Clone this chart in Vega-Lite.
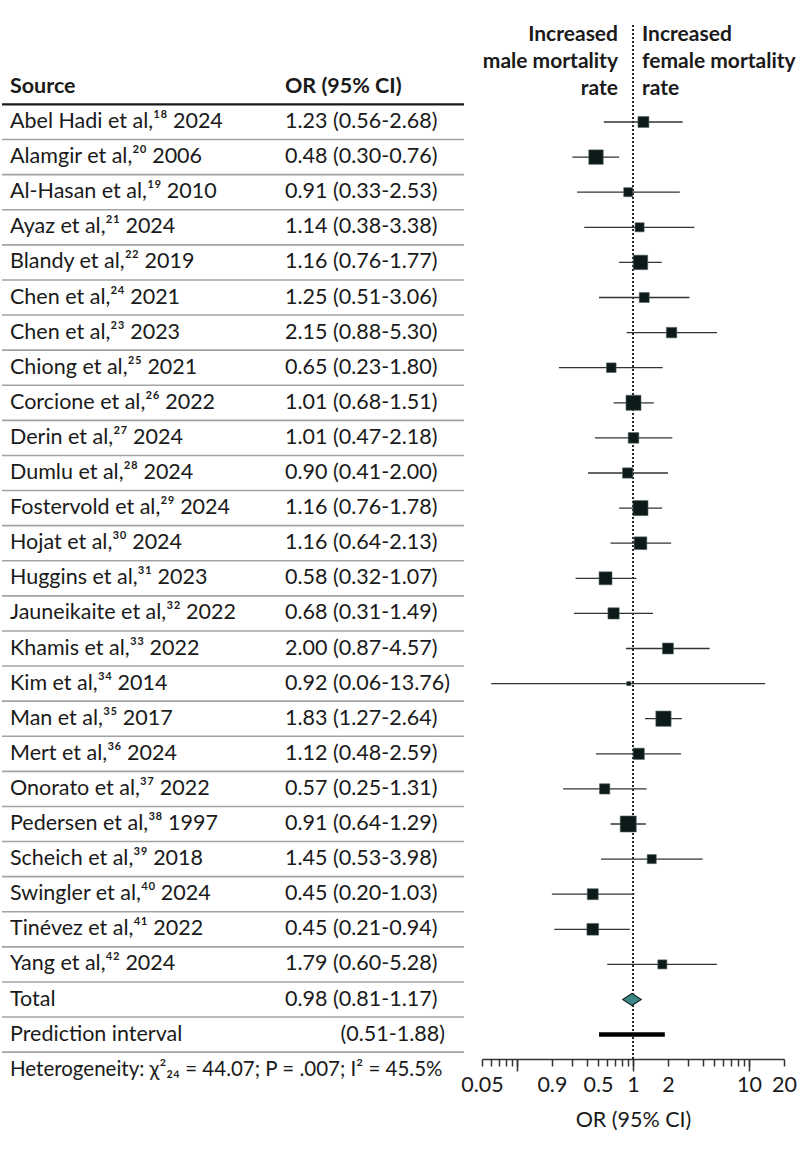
{
  "$schema": "https://vega.github.io/schema/vega-lite/v6.json",
  "padding": {"top": 23, "left": 0, "right": 0, "bottom": 0},
  "bounds": "flush",
  "spacing": 18,
  "background": "white",
  "config": {"view": {"stroke": null}, "font": "Lato"},
  "datasets": {
    "rows": [
      {"row": 1, "type": "study", "source": "Abel Hadi et al,¹⁸ 2024", "ci": "1.23 (0.56-2.68)", "or": 1.23, "lo": 0.56, "hi": 2.68, "weight": 3.5},
      {"row": 2, "type": "study", "source": "Alamgir et al,²⁰ 2006", "ci": "0.48 (0.30-0.76)", "or": 0.48, "lo": 0.30, "hi": 0.76, "weight": 6.1},
      {"row": 3, "type": "study", "source": "Al-Hasan et al,¹⁹ 2010", "ci": "0.91 (0.33-2.53)", "or": 0.91, "lo": 0.33, "hi": 2.53, "weight": 2.4},
      {"row": 4, "type": "study", "source": "Ayaz et al,²¹ 2024", "ci": "1.14 (0.38-3.38)", "or": 1.14, "lo": 0.38, "hi": 3.38, "weight": 2.4},
      {"row": 5, "type": "study", "source": "Blandy et al,²² 2019", "ci": "1.16 (0.76-1.77)", "or": 1.16, "lo": 0.76, "hi": 1.77, "weight": 6.1},
      {"row": 6, "type": "study", "source": "Chen et al,²⁴ 2021", "ci": "1.25 (0.51-3.06)", "or": 1.25, "lo": 0.51, "hi": 3.06, "weight": 2.9},
      {"row": 7, "type": "study", "source": "Chen et al,²³ 2023", "ci": "2.15 (0.88-5.30)", "or": 2.15, "lo": 0.88, "hi": 5.30, "weight": 3.2},
      {"row": 8, "type": "study", "source": "Chiong et al,²⁵ 2021", "ci": "0.65 (0.23-1.80)", "or": 0.65, "lo": 0.23, "hi": 1.80, "weight": 2.7},
      {"row": 9, "type": "study", "source": "Corcione et al,²⁶ 2022", "ci": "1.01 (0.68-1.51)", "or": 1.01, "lo": 0.68, "hi": 1.51, "weight": 6.6},
      {"row": 10, "type": "study", "source": "Derin et al,²⁷ 2024", "ci": "1.01 (0.47-2.18)", "or": 1.01, "lo": 0.47, "hi": 2.18, "weight": 3.3},
      {"row": 11, "type": "study", "source": "Dumlu et al,²⁸ 2024", "ci": "0.90 (0.41-2.00)", "or": 0.90, "lo": 0.41, "hi": 2.00, "weight": 3.1},
      {"row": 12, "type": "study", "source": "Fostervold et al,²⁹ 2024", "ci": "1.16 (0.76-1.78)", "or": 1.16, "lo": 0.76, "hi": 1.78, "weight": 6.6},
      {"row": 13, "type": "study", "source": "Hojat et al,³⁰ 2024", "ci": "1.16 (0.64-2.13)", "or": 1.16, "lo": 0.64, "hi": 2.13, "weight": 4.7},
      {"row": 14, "type": "study", "source": "Huggins et al,³¹ 2023", "ci": "0.58 (0.32-1.07)", "or": 0.58, "lo": 0.32, "hi": 1.07, "weight": 4.9},
      {"row": 15, "type": "study", "source": "Jauneikaite et al,³² 2022", "ci": "0.68 (0.31-1.49)", "or": 0.68, "lo": 0.31, "hi": 1.49, "weight": 3.7},
      {"row": 16, "type": "study", "source": "Khamis et al,³³ 2022", "ci": "2.00 (0.87-4.57)", "or": 2.00, "lo": 0.87, "hi": 4.57, "weight": 3.5},
      {"row": 17, "type": "study", "source": "Kim et al,³⁴ 2014", "ci": "0.92 (0.06-13.76)", "or": 0.92, "lo": 0.06, "hi": 13.76, "weight": 0.5},
      {"row": 18, "type": "study", "source": "Man et al,³⁵ 2017", "ci": "1.83 (1.27-2.64)", "or": 1.83, "lo": 1.27, "hi": 2.64, "weight": 6.8},
      {"row": 19, "type": "study", "source": "Mert et al,³⁶ 2024", "ci": "1.12 (0.48-2.59)", "or": 1.12, "lo": 0.48, "hi": 2.59, "weight": 3.7},
      {"row": 20, "type": "study", "source": "Onorato et al,³⁷ 2022", "ci": "0.57 (0.25-1.31)", "or": 0.57, "lo": 0.25, "hi": 1.31, "weight": 3.1},
      {"row": 21, "type": "study", "source": "Pedersen et al,³⁸ 1997", "ci": "0.91 (0.64-1.29)", "or": 0.91, "lo": 0.64, "hi": 1.29, "weight": 7.5},
      {"row": 22, "type": "study", "source": "Scheich et al,³⁹ 2018", "ci": "1.45 (0.53-3.98)", "or": 1.45, "lo": 0.53, "hi": 3.98, "weight": 2.4},
      {"row": 23, "type": "study", "source": "Swingler et al,⁴⁰ 2024", "ci": "0.45 (0.20-1.03)", "or": 0.45, "lo": 0.20, "hi": 1.03, "weight": 3.5},
      {"row": 24, "type": "study", "source": "Tinévez et al,⁴¹ 2022", "ci": "0.45 (0.21-0.94)", "or": 0.45, "lo": 0.21, "hi": 0.94, "weight": 4.0},
      {"row": 25, "type": "study", "source": "Yang et al,⁴² 2024", "ci": "1.79 (0.60-5.28)", "or": 1.79, "lo": 0.60, "hi": 5.28, "weight": 2.4},
      {"row": 26, "type": "total", "source": "Total", "ci": "0.98 (0.81-1.17)", "or": 0.98, "lo": 0.81, "hi": 1.17},
      {"row": 27, "type": "pi", "source": "Prediction interval", "ci": "(0.51-1.88)", "lo": 0.51, "hi": 1.88},
      {"row": 28, "type": "het", "source": "Heterogeneity: χ²₂₄ = 44.07; P = .007; I² = 45.5%", "ci": ""}
    ],
    "header": [{"row": 0, "source": "Source", "ci": "OR (95% CI)"}],
    "direction": [
      {"side": "male", "label": "Increased\nmale mortality\nrate"},
      {"side": "female", "label": "Increased\nfemale mortality\nrate"}
    ]
  },
  "hconcat": [
    {
      "width": 462,
      "height": 1062.25,
      "data": {"name": "rows"},
      "layer": [
        {
          "transform": [{"filter": "datum.row >= 2"}],
          "mark": {"type": "rule", "color": "#a3a3a3", "strokeWidth": 1.6},
          "encoding": {
            "y": {"field": "row", "type": "ordinal", "bandPosition": 0, "axis": null,
                  "scale": {"type": "band", "domain": [-1,0,1,2,3,4,5,6,7,8,9,10,11,12,13,14,15,16,17,18,19,20,21,22,23,24,25,26,27,28], "paddingInner": 0, "paddingOuter": 0.13177, "align": 1, "round": false}}
          }
        },
        {
          "transform": [{"filter": "datum.row == 1"}],
          "mark": {"type": "rule", "color": "#1a1a1a", "strokeWidth": 2.3},
          "encoding": {
            "y": {"field": "row", "type": "ordinal", "bandPosition": 0, "axis": null}
          }
        },
        {
          "transform": [{"filter": "datum.type != 'het'"}],
          "mark": {"type": "text", "align": "left", "baseline": "middle", "fontSize": 21.5, "color": "#1a1a1a"},
          "encoding": {
            "x": {"datum": "Source", "type": "nominal", "bandPosition": 0.03463, "axis": null,
                  "scale": {"type": "band", "domain": ["Source", "OR"], "paddingInner": 0, "paddingOuter": 0, "round": false}},
            "y": {"field": "row", "type": "ordinal", "axis": null},
            "text": {"field": "source"}
          }
        },
        {
          "transform": [{"filter": "datum.type == 'het'"}],
          "mark": {"type": "text", "align": "left", "baseline": "middle", "fontSize": 20.5, "color": "#1a1a1a"},
          "encoding": {
            "x": {"datum": "Source", "type": "nominal", "bandPosition": 0.03463, "axis": null},
            "y": {"field": "row", "type": "ordinal", "axis": null},
            "text": {"field": "source"}
          }
        },
        {
          "transform": [{"filter": "datum.type != 'pi'"}],
          "mark": {"type": "text", "align": "left", "baseline": "middle", "fontSize": 21.5, "color": "#1a1a1a"},
          "encoding": {
            "x": {"datum": "OR", "type": "nominal", "bandPosition": 0.2251, "axis": null},
            "y": {"field": "row", "type": "ordinal", "axis": null},
            "text": {"field": "ci"}
          }
        },
        {
          "transform": [{"filter": "datum.type == 'pi'"}],
          "mark": {"type": "text", "align": "right", "baseline": "middle", "fontSize": 21.5, "color": "#1a1a1a"},
          "encoding": {
            "x": {"datum": "OR", "type": "nominal", "bandPosition": 0.9177, "axis": null},
            "y": {"field": "row", "type": "ordinal", "axis": null},
            "text": {"field": "ci"}
          }
        },
        {
          "data": {"name": "header"},
          "mark": {"type": "text", "align": "left", "baseline": "middle", "fontSize": 21.5, "fontWeight": "bold", "color": "#1a1a1a"},
          "encoding": {
            "x": {"datum": "Source", "type": "nominal", "bandPosition": 0.03463, "axis": null},
            "y": {"field": "row", "type": "ordinal", "axis": null},
            "text": {"field": "source"}
          }
        },
        {
          "data": {"name": "header"},
          "mark": {"type": "text", "align": "left", "baseline": "middle", "fontSize": 21.5, "fontWeight": "bold", "color": "#1a1a1a"},
          "encoding": {
            "x": {"datum": "OR", "type": "nominal", "bandPosition": 0.2251, "axis": null},
            "y": {"field": "row", "type": "ordinal", "axis": null},
            "text": {"field": "ci"}
          }
        }
      ]
    },
    {
      "width": 302,
      "height": 1034,
      "data": {"name": "rows"},
      "resolve": {"axis": {"x": "independent"}},
      "layer": [
        {
          "mark": {"type": "rule", "strokeDash": [2, 2], "strokeWidth": 1.6, "color": "#2a2a2a"},
          "encoding": {
            "x": {"datum": 1, "type": "quantitative",
                  "scale": {"type": "log", "domain": [0.05, 20], "nice": false},
                  "axis": {"orient": "bottom", "values": [0.1, 1, 10], "domain": false, "labels": false, "title": null, "grid": false,
                           "tickColor": "#333333", "tickWidth": 1.5, "tickSize": 12}}
          }
        },
        {
          "transform": [{"filter": "datum.type == 'study'"}],
          "mark": {"type": "rule", "color": "#333333", "strokeWidth": 1.3},
          "encoding": {
            "x": {
              "field": "lo", "type": "quantitative",
              "scale": {"type": "log", "domain": [0.05, 20], "nice": false},
              "axis": {
                "orient": "bottom",
                "values": [0.05, 0.06, 0.07, 0.08, 0.09, 0.1, 0.2, 0.3, 0.4, 0.5, 0.6, 0.7, 0.8, 0.9, 1, 2, 3, 4, 5, 6, 7, 8, 9, 10, 20],
                "grid": false,
                "domainColor": "#333333", "domainWidth": 1.5,
                "tickColor": "#333333", "tickWidth": 1.5, "tickSize": 7,
                "labelPadding": 8,
                "labelExpr": "datum.value === 0.05 ? '0.05' : datum.value === 0.2 ? '0.9' : datum.value === 0.5 ? '0.5' : datum.value === 1 ? '1' : datum.value === 2 ? '2' : datum.value === 10 ? '10' : datum.value === 20 ? '20' : ''",
                "labelFont": "Lato", "labelFontSize": 21.5, "labelColor": "#1a1a1a",
                "labelOverlap": false, "labelFlush": false, "labelBound": false,
                "title": "OR (95% CI)", "titleFont": "Lato", "titleFontSize": 21.5, "titleFontWeight": "normal", "titleColor": "#1a1a1a", "titlePadding": 14
              }
            },
            "x2": {"field": "hi"},
            "y": {"field": "row", "type": "ordinal", "axis": null,
                  "scale": {"type": "band", "domain": [-1,0,1,2,3,4,5,6,7,8,9,10,11,12,13,14,15,16,17,18,19,20,21,22,23,24,25,26,27], "paddingInner": 0, "paddingOuter": 0.22935, "align": 0.5745, "round": false}}
          }
        },
        {
          "transform": [{"filter": "datum.type == 'study'"}],
          "mark": {"type": "square", "fill": "#0c1a1a", "stroke": "#526262", "strokeWidth": 0.6, "opacity": 1},
          "encoding": {
            "x": {"field": "or", "type": "quantitative", "axis": null},
            "y": {"field": "row", "type": "ordinal", "axis": null},
            "size": {"field": "weight", "type": "quantitative", "legend": null,
                     "scale": {"type": "linear", "domain": [0, 10], "range": [0, 341.85], "zero": true}}
          }
        },
        {
          "transform": [{"filter": "datum.type == 'pi'"}],
          "mark": {"type": "rule", "color": "#000000", "strokeWidth": 4.5, "strokeCap": "butt"},
          "encoding": {
            "x": {"field": "lo", "type": "quantitative", "axis": null},
            "x2": {"field": "hi"},
            "y": {"field": "row", "type": "ordinal", "axis": null}
          }
        },
        {
          "transform": [{"filter": "datum.type == 'total'"}],
          "mark": {"type": "point", "shape": "M-1,0L0,-0.65L1,0L0,0.65Z", "size": 342, "filled": true, "fill": "#3b8a86", "stroke": "#1a2a2a", "strokeWidth": 1.2, "opacity": 1},
          "encoding": {
            "x": {"field": "or", "type": "quantitative", "axis": null},
            "y": {"field": "row", "type": "ordinal", "axis": null}
          }
        },
        {
          "data": {"name": "direction"},
          "transform": [{"filter": "datum.side == 'male'"}],
          "mark": {"type": "text", "align": "right", "baseline": "middle", "fontSize": 21, "fontWeight": "bold", "lineBreak": "\n", "lineHeight": 27, "dx": -15, "color": "#1a1a1a"},
          "encoding": {
            "x": {"datum": 1, "type": "quantitative", "axis": null},
            "y": {"datum": -1, "type": "ordinal", "bandPosition": 0.021, "axis": null},
            "text": {"field": "label"}
          }
        },
        {
          "data": {"name": "direction"},
          "transform": [{"filter": "datum.side == 'female'"}],
          "mark": {"type": "text", "align": "left", "baseline": "middle", "fontSize": 21, "fontWeight": "bold", "lineBreak": "\n", "lineHeight": 27, "dx": 9, "color": "#1a1a1a"},
          "encoding": {
            "x": {"datum": 1, "type": "quantitative", "axis": null},
            "y": {"datum": -1, "type": "ordinal", "bandPosition": 0.021, "axis": null},
            "text": {"field": "label"}
          }
        }
      ]
    }
  ]
}
